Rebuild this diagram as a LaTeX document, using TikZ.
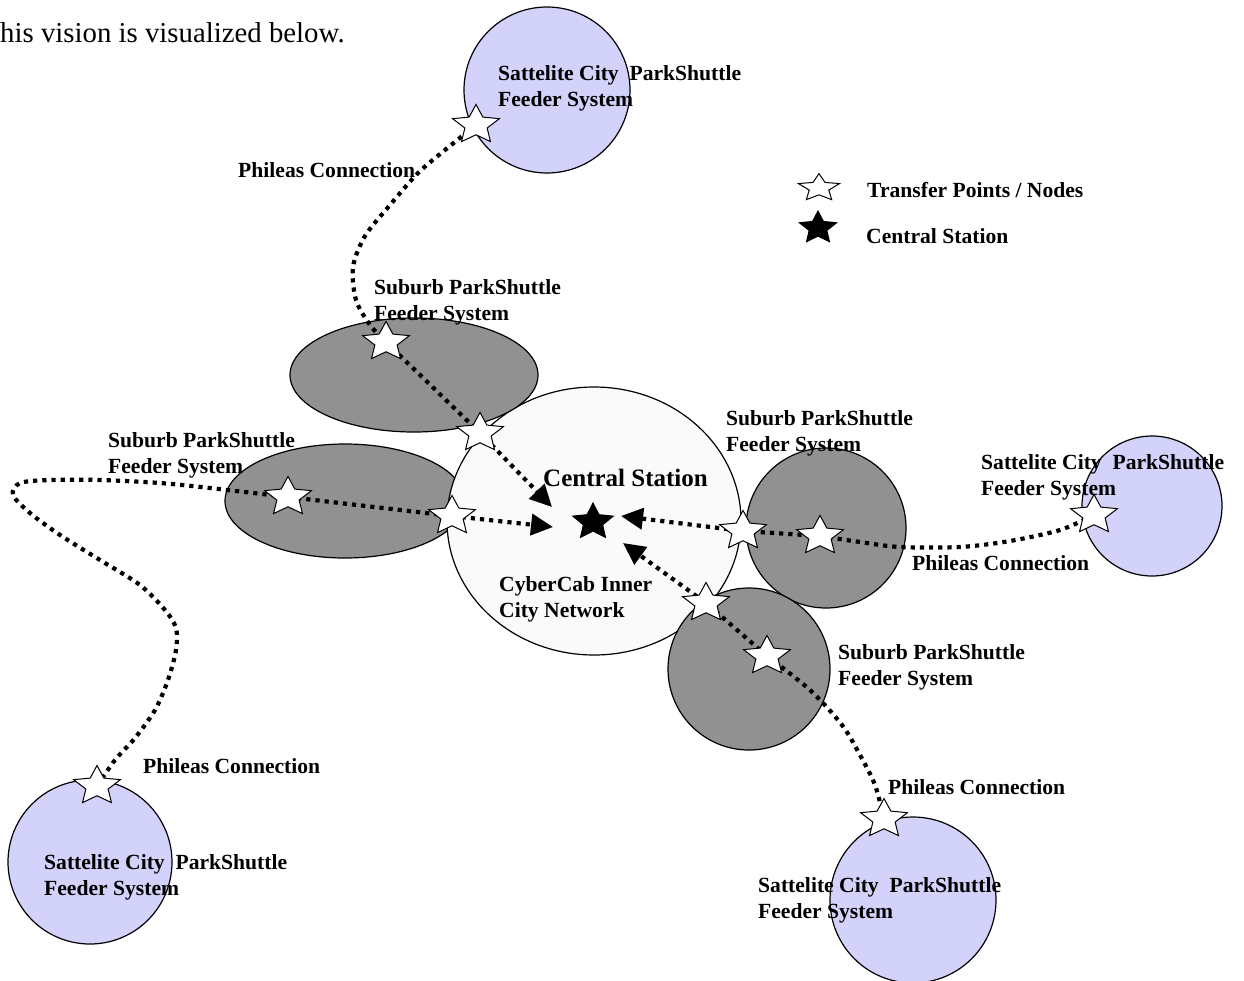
\documentclass[tikz,border=0pt]{standalone}
\usepackage{fontspec}
\setmainfont{Liberation Serif}
\usetikzlibrary{shapes.geometric,arrows.meta}
\pgfdeclarelayer{bg}\pgfdeclarelayer{lines}
\pgfsetlayers{bg,lines,main}
\definecolor{satfill}{RGB}{210,210,250}
\definecolor{subfill}{RGB}{145,145,145}
\definecolor{cenfill}{RGB}{250,250,250}
\begin{document}
\begin{tikzpicture}[x=1pt,y=-1pt,
  region/.style={draw=black,line width=1.2pt,inner sep=0pt,outer sep=0pt},
  sat/.style={region,circle,fill=satfill},
  sub/.style={region,fill=subfill},
  tstar/.style={star,star points=5,star point ratio=2.1,minimum size=41pt,inner sep=0pt,draw=black,line width=1pt,fill=white,xscale=1.2},
  legstar/.style={star,star points=5,star point ratio=2.1,minimum size=36pt,inner sep=0pt,draw=black,line width=1pt,fill=white,xscale=1.2,yscale=0.8},
  cstar/.style={star,star points=5,star point ratio=2.1,minimum size=38pt,inner sep=0pt,draw=black,line width=1pt,fill=black,xscale=1.12},
  lstar/.style={star,star points=5,star point ratio=2.1,minimum size=34pt,inner sep=0pt,draw=black,line width=1pt,fill=black,xscale=1.15},
  lbl/.style={font=\bfseries\fontsize{21.6}{26}\selectfont,align=left,anchor=base west,inner sep=0pt},
  link/.style={line width=4.2pt,dash pattern=on 4.2pt off 5pt},
  tip/.style={-{Triangle[length=22pt,width=21pt]}}
]
\useasboundingbox (0,0) rectangle (1244,980);

\begin{pgfonlayer}{bg}
\fill[white] (0,0) rectangle (1244,980);
\node[sub,ellipse,minimum width=240pt,minimum height=114pt] (subL) at (345,501) {};
\node[region,ellipse,fill=cenfill,minimum width=294pt,minimum height=268pt] (city) at (594,521) {};
\node[sub,ellipse,minimum width=248pt,minimum height=114pt] (subU) at (414,375) {};
\node[sub,circle,minimum size=160pt] (subR) at (826,528) {};
\node[sub,circle,minimum size=162pt] (subD) at (749,669) {};
\node[sat,minimum size=166pt] (satT) at (547,90) {};
\node[sat,minimum size=140pt] (satR) at (1152,506) {};
\node[sat,minimum size=164pt] (satL) at (90,862) {};
\node[sat,minimum size=166pt] (satD) at (913,900) {};
\end{pgfonlayer}

% transfer stars
\node[tstar] (sT) at (476,125) {};
\node[tstar] (sU1) at (386,342) {};
\node[tstar] (sU2) at (480,433) {};
\node[tstar] (sL1) at (288,497) {};
\node[tstar] (sL2) at (452,516) {};
\node[tstar] (sR1) at (743,531) {};
\node[tstar] (sR2) at (820,536) {};
\node[tstar] (sRS) at (1094,515) {};
\node[tstar] (sD1) at (706,603) {};
\node[tstar] (sD2) at (767,656) {};
\node[tstar] (sBL) at (97,786) {};
\node[tstar] (sBR) at (884,819) {};
\node[cstar] (cs) at (593,522) {};
\node[legstar] (lgT) at (819,188) {};
\node[lstar] (lgC) at (818,228) {};

\coordinate (tA) at (552,507);
\coordinate (tB) at (553,527);
\coordinate (tC) at (621,516);
\coordinate (tD) at (623,543);

\begin{pgfonlayer}{lines}
\draw[link] plot[smooth] coordinates {(sT.center) (445,150) (418,173) (390,205) (365,236) (353,267) (356,300) (370,325) (sU1.center)};
\draw[link,tip] (sU1.center) -- (sU2.center) -- (tA);
\draw[link] plot[smooth] coordinates {(sBL.center) (115,760) (135,738) (155,710) (168,680) (176,650) (176,628) (165,610) (140,585) (100,560) (60,535) (30,513) (13,495) (20,483) (50,480) (100,480) (160,483) (210,488) (sL1.center)};
\draw[link,tip] (sL1.center) -- (sL2.center) -- (tB);
\draw[link] plot[smooth] coordinates {(sRS.center) (1060,530) (1010,541) (960,547) (900,547) (860,542) (sR2.center)};
\draw[link,tip] (sR2.center) -- (sR1.center) -- (tC);
\draw[link] plot[smooth] coordinates {(sBR.center) (875,785) (860,755) (842,725) (810,690) (sD2.center)};
\draw[link,tip] (sD2.center) -- (sD1.center) -- (tD);
\end{pgfonlayer}

% texts (base anchor of two-line labels = baseline of the second line)
\node[font=\fontsize{28.8}{34}\selectfont,anchor=base west,inner sep=0pt] (intro) at (0,42) {his vision is visualized below.};
\node[lbl] (labST) at (498,106) {Sattelite City\ \ ParkShuttle\\Feeder System};
\node[lbl] (labPT) at (238,177) {Phileas Connection};
\node[lbl] (legT) at (867,197) {Transfer Points / Nodes};
\node[lbl] (legC) at (866,243) {Central Station};
\node[lbl] (labSU) at (374,320) {Suburb ParkShuttle\\Feeder System};
\node[lbl] (labSL) at (108,473) {Suburb ParkShuttle\\Feeder System};
\node[lbl] (labSR) at (726,451) {Suburb ParkShuttle\\Feeder System};
\node[lbl] (labRS) at (981,495) {Sattelite City\ \ ParkShuttle\\Feeder System};
\node[lbl,font=\bfseries\fontsize{25}{30}\selectfont] (labCS) at (543,486) {Central Station};
\node[lbl] (labCC) at (499,617) {CyberCab Inner\\City Network};
\node[lbl] (labPR) at (912,570) {Phileas Connection};
\node[lbl] (labSD) at (838,685) {Suburb ParkShuttle\\Feeder System};
\node[lbl] (labPL) at (143,773) {Phileas Connection};
\node[lbl] (labPD) at (888,794) {Phileas Connection};
\node[lbl] (labBL) at (44,895) {Sattelite City\ \ ParkShuttle\\Feeder System};
\node[lbl] (labBR) at (758,918) {Sattelite City\ \ ParkShuttle\\Feeder System};
\end{tikzpicture}
\end{document}
